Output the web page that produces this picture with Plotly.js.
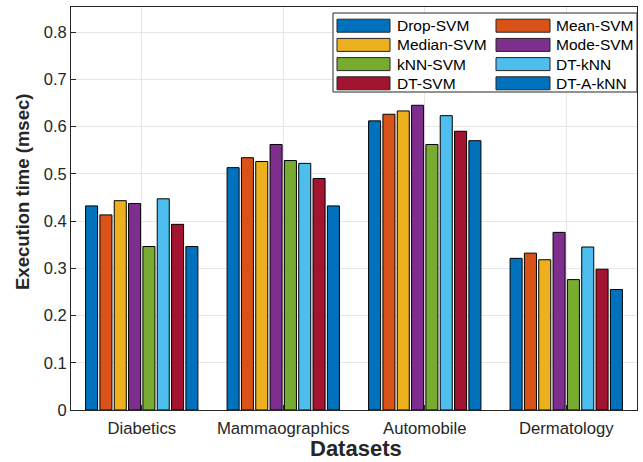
<!DOCTYPE html>
<html><head><meta charset="utf-8">
<script src="https://cdn.plot.ly/plotly-3.0.1.min.js"></script>
<style>html,body{margin:0;padding:0;background:#fff}</style>
</head><body>
<div id="chart" style="width:643px;height:462px"></div>
<script>
const categories = ["Diabetics", "Mammaographics", "Automobile", "Dermatology"];
const seriesNames = ["Drop-SVM", "Mean-SVM", "Median-SVM", "Mode-SVM", "kNN-SVM", "DT-kNN", "DT-SVM", "DT-A-kNN"];
const dropSVM   = [0.432, 0.513, 0.612, 0.321];
const meanSVM   = [0.413, 0.534, 0.626, 0.332];
const medianSVM = [0.443, 0.526, 0.633, 0.318];
const modeSVM   = [0.437, 0.562, 0.645, 0.376];
const knnSVM    = [0.346, 0.528, 0.562, 0.276];
const dtKNN     = [0.447, 0.522, 0.623, 0.345];
const dtSVM     = [0.393, 0.490, 0.590, 0.298];
const dtAKNN    = [0.346, 0.432, 0.570, 0.255];
const seriesValues = [dropSVM, meanSVM, medianSVM, modeSVM, knnSVM, dtKNN, dtSVM, dtAKNN];
const colors = ["#0072BD", "#D95319", "#EDB120", "#7E2F8E", "#77AC30", "#4DBEEE", "#A2142F", "#0072BD"];
const yTicks = [0, 0.1, 0.2, 0.3, 0.4, 0.5, 0.6, 0.7, 0.8];

const traces = seriesNames.map((n, i) => ({
  type: "bar", name: n, x: categories, y: seriesValues[i],
  marker: {color: colors[i], line: {color: "#000", width: 1}},
  showlegend: false
}));

// plot area geometry (pixels)
const L = 71, R = 6, T = 7, B = 52, W = 643, H = 462;
const pw = W - L - R, ph = H - T - B;
const px = v => (v - L) / pw;
const py = v => (H - B - v) / ph;
const FONT = "Liberation Sans, Arial, sans-serif";

const shapes = [];
const annotations = [];
// legend box
shapes.push({type: "rect", xref: "paper", yref: "paper", x0: px(333), x1: px(637), y0: py(92), y1: py(13),
  line: {color: "#262626", width: 1}, fillcolor: "#fff", layer: "above"});
const colX = [[337, 390, 395], [496, 550, 554]];
seriesNames.forEach((n, i) => {
  const col = i % 2, row = Math.floor(i / 2);
  const cy = 25.7 + row * 19.2;
  shapes.push({type: "rect", xref: "paper", yref: "paper", x0: px(colX[col][0]), x1: px(colX[col][1]),
    y0: py(cy + 6.5), y1: py(cy - 6.5), fillcolor: colors[i], line: {color: "#262626", width: 1}, layer: "above"});
  annotations.push({xref: "paper", yref: "paper", x: px(colX[col][2]), y: py(cy), text: n, showarrow: false,
    xanchor: "left", yanchor: "middle", font: {family: FONT, size: 15.5, color: "#000"}});
});
// axis titles
annotations.push({xref: "paper", yref: "paper", x: px(22), y: py(192), text: "<b>Execution time (msec)</b>",
  textangle: -90, showarrow: false, xanchor: "center", yanchor: "middle",
  font: {family: FONT, size: 18.5, color: "#262626"}});
annotations.push({xref: "paper", yref: "paper", x: px(356), y: py(449), text: "<b>Datasets</b>",
  showarrow: false, xanchor: "center", yanchor: "middle",
  font: {family: FONT, size: 22, color: "#262626"}});

const layout = {
  width: W, height: H,
  margin: {l: L, r: R, t: T, b: B, pad: 0},
  paper_bgcolor: "#fff", plot_bgcolor: "#fff",
  font: {family: FONT, size: 16, color: "#262626"},
  barmode: "group", bargap: 0.19, bargroupgap: 0.16,
  xaxis: {
    type: "category", range: [-0.5, 3.5],
    showline: true, linecolor: "#262626", linewidth: 1, mirror: true,
    showgrid: true, gridcolor: "#e6e6e6", ticks: "inside", ticklen: 5, tickcolor: "#262626",
    ticklabelstandoff: 3,
    tickfont: {size: 16.7, color: "#262626"}
  },
  yaxis: {
    range: [0, 0.853], tickvals: yTicks, ticktext: yTicks.map(v => String(v)),
    showline: true, linecolor: "#262626", linewidth: 1, mirror: true,
    showgrid: true, gridcolor: "#e6e6e6", zeroline: false,
    ticks: "inside", ticklen: 5, tickcolor: "#262626",
    tickfont: {size: 16.5, color: "#262626"}
  },
  shapes: shapes, annotations: annotations
};
Plotly.newPlot("chart", traces, layout, {displayModeBar: false, staticPlot: true});
</script>
</body></html>
